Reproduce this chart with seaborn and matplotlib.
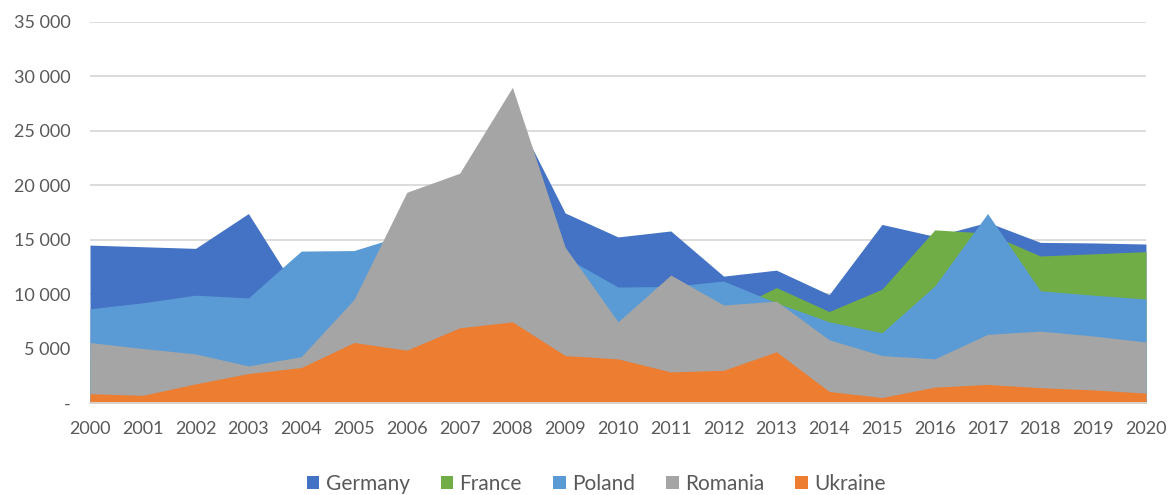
import numpy as np
import pandas as pd
import matplotlib.pyplot as plt
import seaborn as sns

# values
years = list(range(2000, 2021))
germany = [14500, 14350, 14200, 17400, 9700, 11000, 14000, 19000, 27000, 17450,
           15250, 15800, 11650, 12200, 9950, 16400, 15300, 16600, 14750, 14700, 14600]
france = [4000, 4000, 4500, 5000, 5500, 6000, 6500, 7000, 7000, 7500,
          7000, 7500, 8200, 10600, 8400, 10450, 15900, 15600, 13500, 13700, 13900]
poland = [8650, 9200, 9900, 9650, 13950, 14000, 15500, 15000, 15000, 13400,
          10650, 10700, 11200, 9200, 7450, 6450, 10750, 17400, 10300, 9900, 9550]
romania = [5550, 5000, 4500, 3400, 4250, 9500, 19350, 21100, 29000, 14300,
           7450, 11750, 9000, 9350, 5800, 4350, 4050, 6300, 6600, 6150, 5600]
ukraine = [850, 700, 1750, 2700, 3250, 5550, 4850, 6900, 7450, 4350,
           4050, 2850, 3000, 4700, 1050, 500, 1450, 1700, 1400, 1200, 900]

df = pd.DataFrame({'Year': years, 'Germany': germany, 'France': france,
                   'Poland': poland, 'Romania': romania, 'Ukraine': ukraine})
long_df = df.melt(id_vars='Year', var_name='Country', value_name='Value')

colors = {'Germany': '#4472C4', 'France': '#70AD47', 'Poland': '#5B9BD5',
          'Romania': '#A5A5A5', 'Ukraine': '#ED7D31'}

sns.set_style('white')
plt.rcParams['font.family'] = ['Lato', 'DejaVu Sans']

fig = plt.figure(figsize=(11.69, 4.95), dpi=100)
ax = fig.add_axes([0.077, 0.186, 0.9033, 0.7696])

# overlapping (not stacked) areas, later series drawn on top
for country in ['Germany', 'France', 'Poland', 'Romania', 'Ukraine']:
    sub = long_df[long_df['Country'] == country]
    ax.fill_between(sub['Year'], 0, sub['Value'], color=colors[country],
                    linewidth=0, label=country, zorder=2)

ax.set_xlim(2000, 2020)
ax.set_ylim(0, 35000)
ax.set_xticks(years)
ax.set_yticks(np.arange(0, 35001, 5000))
ax.set_yticklabels(['-'] + [f'{v:,}'.replace(',', ' ') for v in range(5000, 35001, 5000)])
ax.yaxis.grid(True, color='#D9D9D9', linewidth=1.3, zorder=0)
ax.set_axisbelow(True)
for side in ['left', 'right', 'top']:
    ax.spines[side].set_visible(False)
ax.spines['bottom'].set_color('#D9D9D9')
ax.spines['bottom'].set_linewidth(1.3)
ax.tick_params(axis='x', colors='#595959', labelsize=13, length=5, width=1.3,
               direction='out', pad=8, color='#D9D9D9')
ax.tick_params(axis='y', colors='#595959', labelsize=13, length=0, pad=14)
ax.set_xlabel('')
ax.set_ylabel('')

fig.legend(loc='center', bbox_to_anchor=(0.51, 0.022), ncol=5, frameon=False,
           fontsize=15, handlelength=0.6, handleheight=0.6, handletextpad=0.3,
           columnspacing=1.5, labelcolor='#595959')

fig.savefig('out.png', dpi=100)
